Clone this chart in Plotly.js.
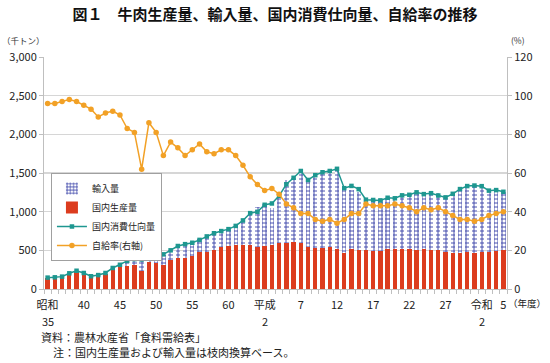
<!DOCTYPE html>
<html>
<head>
<meta charset="utf-8">
<script src="https://cdn.plot.ly/plotly-3.0.1.min.js"></script>
<style>
html,body{margin:0;padding:0;background:#fff;}
#chart{width:550px;height:363px;}
</style>
</head>
<body>
<div id="chart"></div>
<script>
// 年度 (1960 = 昭和35 ... 2023 = 令和5)
const years = [];
for (let y = 1960; y <= 2023; y++) years.push(y);

// 国内生産量 (千トン)
const production = [141,141,153,198,229,196,153,160,188,250,
  282,302,310,236,354,335,309,371,406,400,
  431,476,483,505,539,556,563,568,569,539,
  555,575,596,595,605,590,547,529,529,545,
  521,470,520,505,508,497,495,513,518,518,
  512,505,514,506,502,475,463,471,476,471,
  479,480,497,505];

// 輸入量 (千トン)
const imports = [6,6,4,5,6,11,14,19,19,23,
  33,62,77,170,40,91,134,132,146,189,
  172,172,198,208,213,225,268,319,408,520,
  549,467,605,810,834,941,873,941,974,975,
  1055,868,763,743,643,654,667,662,671,679,
  731,737,722,765,738,696,752,817,886,890,
  845,813,806,748];

// 国内消費仕向量 (千トン)
const consumption = [147,151,160,203,236,207,165,180,207,272,
  313,364,386,382,412,414,448,500,556,580,
  598,635,680,721,749,774,816,887,981,998,
  1089,1106,1204,1354,1438,1526,1410,1472,1510,1526,
  1554,1304,1333,1291,1155,1151,1146,1180,1173,1211,
  1218,1250,1227,1239,1209,1185,1231,1292,1331,1338,
  1330,1272,1279,1257];

// 自給率 (%)
const selfRate = [96,96,97,98,97,95,93,89,91,92,
  90,83,81,62,86,81,69,76,73,69,
  72,75,71,70,72,72,69,64,58,54,
  51,52,49,44,42,39,39,36,35,36,
  34,36,39,39,44,43,43,43,44,43,
  42,40,42,41,42,40,38,36,36,35,
  36,38,39,40];

// 目盛ラベル
const tickYears = [1960,1965,1970,1975,1980,1985,1990,1995,2000,2005,2010,2015,2020,2023];
const tickLabels = ['昭和','40','45','50','55','60','平成','7','12','17','22','27','令和','5'];
const eraYears = [1960,1990,2020];
const eraSecondLine = ['35','2','2'];

const FONT = '"Noto Sans CJK JP", "Noto Sans", sans-serif';

const traces = [
  {
    type:'bar', name:'国内生産量', x: years, y: production,
    marker:{color:'#dc3c1e'}, legendrank: 2, hoverinfo:'skip'
  },
  {
    type:'bar', name:'輸入量', x: years, y: imports,
    marker:{color:'#ffffff', pattern:{shape:'+', fgcolor:'#3f47aa', bgcolor:'#ffffff', size:4, solidity:0.42}},
    legendrank: 1, hoverinfo:'skip'
  },
  {
    type:'scatter', mode:'lines+markers', name:'国内消費仕向量', x: years, y: consumption,
    line:{color:'#1e9790', width:1.5},
    marker:{symbol:'square', size:4.5, color:'#1e9790'},
    legendrank: 3
  },
  {
    type:'scatter', mode:'lines+markers', name:'自給率(右軸)', x: years, y: selfRate, yaxis:'y2',
    line:{color:'#f2a126', width:1.5},
    marker:{symbol:'circle', size:5.5, color:'#f2a126'},
    legendrank: 4
  }
];

const annotations = [
  {text:'（千トン）', xref:'paper', yref:'paper', x:-0.095, y:1.073, xanchor:'left', yanchor:'middle', showarrow:false, font:{size:8.5, color:'#333'}},
  {text:'(%)', xref:'paper', yref:'paper', x:1.005, y:1.073, xanchor:'left', yanchor:'middle', showarrow:false, font:{size:8.5, color:'#333'}},
  {text:'（年度）', xref:'paper', yref:'paper', x:1.089, y:-0.062, xanchor:'right', yanchor:'middle', showarrow:false, font:{size:9.5, color:'#222'}},
  {text:'資料：農林水産省「食料需給表」', xref:'paper', yref:'paper', x:-0.01, y:-0.207, xanchor:'left', yanchor:'middle', showarrow:false, font:{size:11, color:'#222'}},
  {text:'注：国内生産量および輸入量は枝肉換算ベース。', xref:'paper', yref:'paper', x:0.015, y:-0.272, xanchor:'left', yanchor:'middle', showarrow:false, font:{size:11, color:'#222'}}
];
eraYears.forEach((yr, i) => {
  annotations.push({text: eraSecondLine[i], xref:'x', yref:'paper', x: yr, y:-0.14, xanchor:'center', yanchor:'middle', showarrow:false, font:{size:11, color:'#222'}});
});

const layout = {
  width:550, height:363,
  margin:{l:44, r:43, t:57, b:74},
  paper_bgcolor:'#ffffff', plot_bgcolor:'#ffffff',
  font:{family:FONT, size:11, color:'#222'},
  barmode:'stack', bargap:0.4,
  showlegend:true,
  title:{text:'<b>図１　牛肉生産量、輸入量、国内消費仕向量、自給率の推移</b>', x:0.5, xref:'container', y:0.958, yref:'container', yanchor:'middle', font:{family:FONT, size:15, color:'#111'}},
  xaxis:{
    range:[1959.5, 2023.5], tickvals: tickYears, ticktext: tickLabels,
    ticks:'', showgrid:false, zeroline:false, ticklabelstandoff:6,
    showline:true, linecolor:'#bfbfbf', linewidth:1,
    tickfont:{size:11, color:'#222'},
    minor:{tick0:1959.5, dtick:1, ticks:'outside', ticklen:4, tickcolor:'#bfbfbf', showgrid:false}
  },
  yaxis:{
    range:[0,3000], dtick:500, tickformat:',d',
    showgrid:true, gridcolor:'#d6d6d6', gridwidth:1.3,
    showline:true, linecolor:'#bfbfbf', linewidth:1,
    ticks:'outside', ticklen:4, tickcolor:'#bfbfbf',
    zeroline:false, tickfont:{size:11, color:'#222'}
  },
  yaxis2:{
    range:[0,120], dtick:20, overlaying:'y', side:'right',
    showgrid:false, zeroline:false,
    showline:true, linecolor:'#bfbfbf', linewidth:1,
    ticks:'outside', ticklen:4, tickcolor:'#bfbfbf',
    tickfont:{size:11, color:'#222'}
  },
  legend:{
    x:0.015, y:0.5, xanchor:'left', yanchor:'top',
    bgcolor:'#ffffff', bordercolor:'#a0a0a0', borderwidth:1,
    traceorder:'normal', font:{size:9, color:'#222'},
    itemwidth:30, tracegroupgap:0
  },
  annotations: annotations
};

Plotly.newPlot('chart', traces, layout, {displayModeBar:false, staticPlot:true});
</script>
</body>
</html>
